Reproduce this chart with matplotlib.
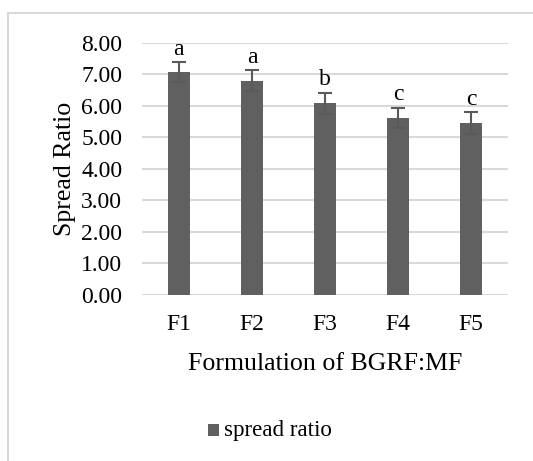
import matplotlib
matplotlib.use("Agg")
import matplotlib.pyplot as plt
from matplotlib.patches import Rectangle

categories = ["F1", "F2", "F3", "F4", "F5"]
values = [7.06, 6.80, 6.08, 5.62, 5.46]
errors = [0.32, 0.32, 0.33, 0.32, 0.34]
letters = ["a", "a", "b", "c", "c"]
yticks = [0, 1, 2, 3, 4, 5, 6, 7, 8]

plt.rcParams['font.family'] = ['Liberation Serif', 'DejaVu Serif']

W, H = 533, 461
fig = plt.figure(figsize=(W / 100, H / 100), dpi=100)
ax = fig.add_axes([142.3 / W, 1 - 295 / H, (507.7 - 142.3) / W, (295 - 42.7) / H])

bar_color = "#606060"
x = list(range(len(categories)))
ax.bar(x, values, width=0.31, color=bar_color, zorder=3)
ax.errorbar(x, values, yerr=errors, fmt='none', ecolor="#5a5a5a",
            elinewidth=1.5, capsize=5, capthick=1.5, zorder=4)
for xi, v, e, l in zip(x, values, errors, letters):
    ax.text(xi, v + e + 0.08, l, ha='center', va='bottom', fontsize=17, color='black')

ax.set_xlim(-0.5, len(categories) - 0.5)
ax.set_ylim(0, 8)
ax.set_yticks(yticks)
ax.set_yticklabels([f"{t:.2f}" for t in yticks])
ax.set_xticks(x)
ax.set_xticklabels(categories)
ax.tick_params(axis='both', length=0, labelsize=17)
ax.tick_params(axis='y', pad=14.4)
ax.tick_params(axis='x', pad=14)
ax.yaxis.grid(True, color="#d9d9d9", linewidth=1.5, zorder=0)
ax.set_axisbelow(True)
for s in ax.spines.values():
    s.set_visible(False)

ax.set_ylabel("Spread Ratio", fontsize=18.6, labelpad=4)
ax.set_xlabel("Formulation of BGRF:MF", fontsize=18.6, labelpad=12.5)

# chart border (partially cropped in the reference)
fig.patches.append(Rectangle((8 / W, -0.1), 1.2, 1 - 13 / H + 0.1, transform=fig.transFigure,
                             fill=False, edgecolor="#d9d9d9", linewidth=1.5))

# legend
fig.patches.append(Rectangle((208 / W, 1 - 436 / H), 11 / W, 12 / H, transform=fig.transFigure,
                             facecolor=bar_color, edgecolor='none'))
fig.text(224 / W, 1 - 430 / H, "spread ratio", fontsize=16.6, va='center', ha='left')

fig.savefig("out.png", dpi=100)
